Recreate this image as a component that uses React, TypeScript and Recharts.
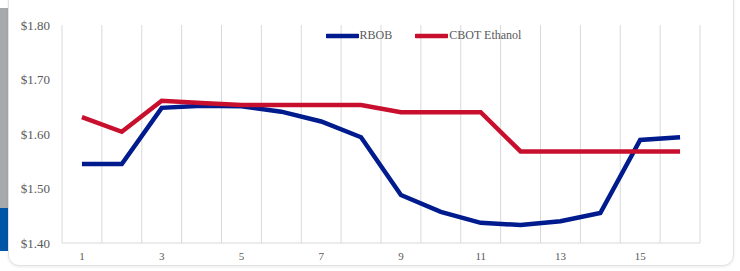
import React from 'react';
import { LineChart, Line, XAxis, YAxis, CartesianGrid } from 'recharts';

const days = ['1', '2', '3', '4', '5', '6', '7', '8', '9', '10', '11', '12', '13', '14', '15', '16'];
const rbob = [1.545, 1.545, 1.648, 1.652, 1.651, 1.641, 1.623, 1.594, 1.488, 1.457, 1.437, 1.433, 1.44, 1.455, 1.589, 1.594];
const ethanol = [1.631, 1.604, 1.661, 1.657, 1.653, 1.653, 1.653, 1.653, 1.64, 1.64, 1.64, 1.568, 1.568, 1.568, 1.568, 1.568];
const yTicks = [1.4, 1.5, 1.6, 1.7, 1.8];

const data = days.map((d, i) => ({ day: d, rbob: rbob[i], ethanol: ethanol[i] }));

const BLUE = '#001b8e';
const RED = '#c8102e';
const TEXT = '#595959';
const GRID = '#d9d9d9';
const FONT = '"Liberation Serif", serif';

const series = [
  { label: 'RBOB', color: BLUE },
  { label: 'CBOT Ethanol', color: RED },
];

// legend sits over the plot, outside recharts layout so it doesn't shrink the plot
const LegendBox = () => (
  <div
    style={{
      position: 'absolute',
      top: 28,
      left: 0,
      width: 740,
      display: 'flex',
      justifyContent: 'center',
      fontFamily: FONT,
      fontSize: 12,
      color: TEXT,
      paddingLeft: 130,
      boxSizing: 'border-box',
    }}
  >
    {series.map((it) => (
      <div key={it.label} style={{ display: 'flex', alignItems: 'center', marginRight: 23 }}>
        <svg width={33} height={8}>
          <line x1={1} y1={4} x2={32} y2={4} stroke={it.color} strokeWidth={4.5} strokeLinecap="round" />
        </svg>
        <span style={{ marginLeft: 1 }}>{it.label}</span>
      </div>
    ))}
  </div>
);

export default function App() {
  return (
    <div style={{ position: 'fixed', left: 0, top: 0, width: 740, height: 271, background: '#fff', overflow: 'hidden' }}>
      <div style={{ position: 'absolute', left: 0, top: 8, width: 9, height: 200, background: '#a7a9ac' }} />
      <div style={{ position: 'absolute', left: 0, top: 208, width: 9, height: 43, background: '#0056a6' }} />
      <div
        style={{
          position: 'absolute',
          left: 8,
          top: -12,
          width: 724,
          height: 276,
          background: '#fff',
          border: '1px solid #e3e3e3',
          borderRadius: 11,
          boxShadow: '0 1px 3px rgba(0,0,0,0.08)',
        }}
      />
      <div style={{ position: 'absolute', left: 0, top: 0 }}>
        <LineChart width={740} height={271} data={data} margin={{ top: 25, right: 40, left: 12, bottom: 8 }}>
          <CartesianGrid
            horizontal={false}
            stroke={GRID}
            verticalCoordinatesGenerator={({ offset }: any) =>
              days.map((_, i) => offset.left + (i * offset.width) / days.length).concat(offset.left + offset.width)
            }
          />
          <XAxis
            dataKey="day"
            scale="band"
            interval={1}
            tickLine={false}
            axisLine={{ stroke: GRID }}
            tick={{ fill: TEXT, fontSize: 11, fontFamily: FONT }}
            tickMargin={3}
            height={20}
          />
          <YAxis
            domain={[1.4, 1.8]}
            ticks={yTicks}
            width={50}
            axisLine={false}
            tickLine={false}
            tickMargin={6}
            tickFormatter={(v: number) => `$${v.toFixed(2)}`}
            tick={{ fill: TEXT, fontSize: 13, fontFamily: FONT }}
          />
          <Line type="linear" dataKey="rbob" name="RBOB" stroke={BLUE} strokeWidth={4.5} dot={false} isAnimationActive={false} />
          <Line type="linear" dataKey="ethanol" name="CBOT Ethanol" stroke={RED} strokeWidth={4.5} dot={false} isAnimationActive={false} />
        </LineChart>
      </div>
      <LegendBox />
    </div>
  );
}
